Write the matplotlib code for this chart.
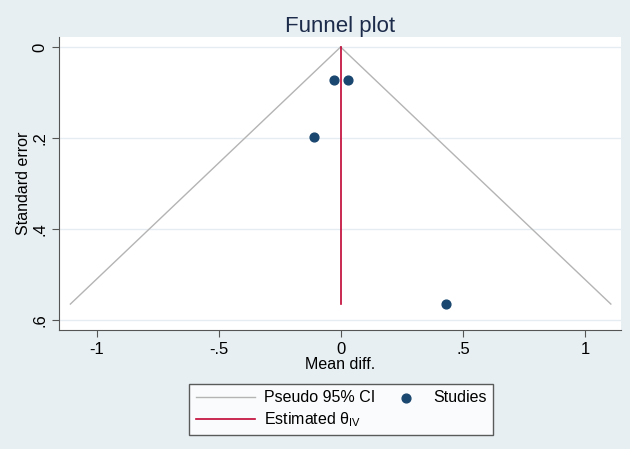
import numpy as np
import matplotlib.pyplot as plt
from matplotlib.collections import PathCollection
from matplotlib.legend_handler import HandlerPathCollection

# study effects and standard errors
effect = [-0.03, 0.03, -0.11, 0.43]
se = [0.072, 0.072, 0.197, 0.565]
theta = -0.002
se_max = 0.565

bg = "#e8eff3"
navy = "#1a476f"
red = "#c10534"
gray = "#b4b4b4"

plt.rcParams['font.family'] = ['Liberation Sans', 'DejaVu Sans']
plt.rcParams['mathtext.default'] = 'regular'

fig = plt.figure(figsize=(6.3, 4.49), dpi=100, facecolor=bg)
ax = fig.add_axes([59/630, 1-330/449, (621-59)/630, (330-37)/449])
ax.set_facecolor("white")

# pseudo 95% CI lines
s = np.array([0, se_max])
ax.plot(theta - 1.96*s, s, color=gray, lw=1, label="Pseudo 95% CI")
ax.plot(theta + 1.96*s, s, color=gray, lw=1)
ax.plot([theta, theta], [0, se_max], color=red, lw=1.2, label="Estimated θ$_{IV}$")
ax.scatter(effect, se, s=40, color=navy, zorder=3, label="Studies")

ax.set_xlim(-1.156, 1.147)
ax.set_ylim(0.622, -0.022)
ax.set_xticks([-1, -0.5, 0, 0.5, 1])
ax.set_xticklabels(["-1", "-.5", "0", ".5", "1"])
ax.set_yticks([0, 0.2, 0.4, 0.6])
ax.set_yticklabels(["0", ".2", ".4", ".6"], rotation=90, va="center")
ax.grid(axis="y", color="#e6edf2", lw=1)
ax.set_axisbelow(True)
for sp in ["top", "right"]:
    ax.spines[sp].set_visible(False)
for sp in ["left", "bottom"]:
    ax.spines[sp].set_color("#555555")
ax.tick_params(labelsize=12, length=5, color="#555555", labelcolor="black")

ax.set_xlabel("Mean diff.", fontsize=11.5, labelpad=0)
ax.set_ylabel("Standard error", fontsize=11.5, labelpad=1)
ax.set_title("Funnel plot", fontsize=16, color="#1c2b4a", pad=3)

# dot pushed to the right end of its handle, like Stata
h, l = ax.get_legend_handles_labels()
leg = fig.legend(h, l, ncol=2,
                 loc="upper center", bbox_to_anchor=(341/630, 1-376/449),
                 fontsize=11.5, frameon=True, fancybox=False, edgecolor="#333333",
                 handlelength=3.75, handletextpad=0.55, columnspacing=-0.7,
                 borderpad=0.4, labelspacing=0.3,
                 handler_map={PathCollection: HandlerPathCollection(xpad=1.5)})
leg.get_frame().set_linewidth(1)

fig.savefig("out.png", dpi=100, facecolor=bg)
